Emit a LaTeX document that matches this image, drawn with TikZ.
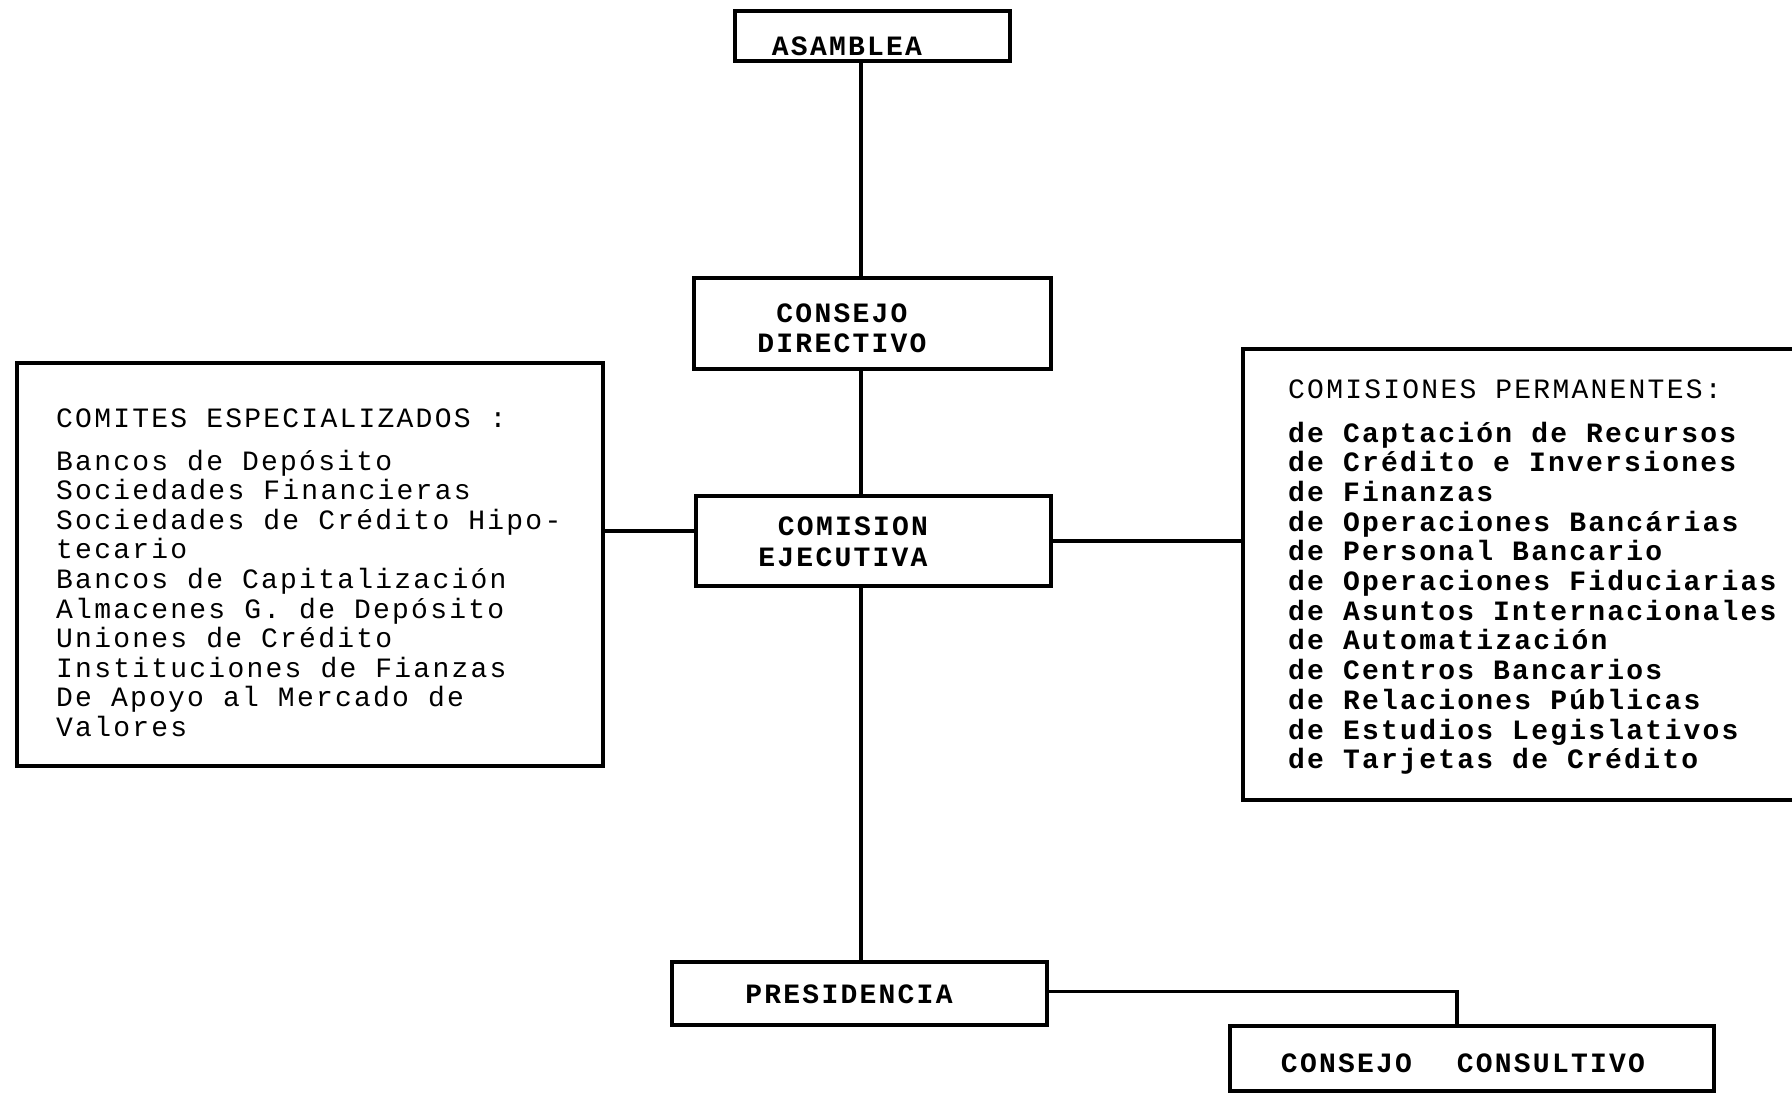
\documentclass[tikz,border=0pt]{standalone}
\usepackage{fontspec}
\newfontfamily\tw[LetterSpace=8]{Liberation Mono}
\begin{document}
\begin{tikzpicture}[x=1pt,y=-1pt,
  box/.style={draw, line width=3.6pt, rectangle, inner sep=0pt},
  lbl/.style={font=\tw\bfseries\fontsize{28}{30}\selectfont, inner sep=0pt},
  itemL/.style={font=\tw\fontsize{28}{30}\selectfont, inner sep=0pt, anchor=base west},
  itemR/.style={font=\tw\bfseries\fontsize{28}{30}\selectfont, inner sep=0pt, anchor=base west},
  conn/.style={line width=3.2pt}]
\useasboundingbox (0,0) rectangle (1792,1095);
% boxes
\node[box, minimum width=275pt, minimum height=50pt] (asm) at (872.5,36) {};
\node[box, minimum width=357pt, minimum height=91pt] (cd) at (872.5,323.5) {};
\node[box, minimum width=355pt, minimum height=90pt] (ce) at (873.5,541) {};
\node[box, minimum width=586pt, minimum height=403pt] (cmt) at (310,564.5) {};
\node[box, minimum width=567pt, minimum height=451pt] (cp) at (1526.5,574.5) {};
\node[box, minimum width=375pt, minimum height=63pt] (pres) at (859.5,993.5) {};
\node[box, minimum width=484pt, minimum height=65pt] (cc) at (1472,1058.5) {};
% labels
\node[lbl] (asmT) at (847,46) {ASAMBLEA};
\node[lbl] (cdT1) at (842,313) {CONSEJO};
\node[lbl] (cdT2) at (842,343) {DIRECTIVO};
\node[lbl] (ceT1) at (853,526) {COMISION};
\node[lbl] (ceT2) at (843,557) {EJECUTIVA};
\node[lbl] (presT) at (849,994) {PRESIDENCIA};
\node[lbl] (ccT) at (1463,1063) {CONSEJO\hspace{1.6em}CONSULTIVO};
% left list
\node[itemL] (cmtH) at (56,427) {COMITES ESPECIALIZADOS :};
\foreach \t [count=\i] in {Bancos de Depósito,Sociedades Financieras,Sociedades de Crédito Hipo-,tecario,Bancos de Capitalización,Almacenes G. de Depósito,Uniones de Crédito,Instituciones de Fianzas,De Apoyo al Mercado de,Valores}
  \node[itemL] (cmt\i) at (56,{470+29.6*(\i-1)}) {\t};
% right list
\node[itemL] (cpH) at (1288,398) {COMISIONES PERMANENTES:};
\foreach \t [count=\i] in {de Captación de Recursos,de Crédito e Inversiones,de Finanzas,de Operaciones Bancárias,de Personal Bancario,de Operaciones Fiduciarias,de Asuntos Internacionales,de Automatización,de Centros Bancarios,de Relaciones Públicas,de Estudios Legislativos,de Tarjetas de Crédito}
  \node[itemR] (cp\i) at (1288,{442+29.7*(\i-1)}) {\t};
% connectors
\coordinate (spine) at (861,0);
\coordinate (ccjoin) at (1457,0);
\draw[conn] (asm.south -| spine) -- (cd.north -| spine);
\draw[conn] (cd.south -| spine) -- (ce.north -| spine);
\draw[conn] (ce.south -| spine) -- (pres.north -| spine);
\draw[conn] ([yshift=10pt]ce.west) -- ([yshift=10pt]ce.west -| cmt.east);
\draw[conn] (ce.east) -- (ce.east -| cp.west);
\draw[conn] ([yshift=2pt]pres.east) -| (cc.north -| ccjoin);
\end{tikzpicture}
\end{document}
